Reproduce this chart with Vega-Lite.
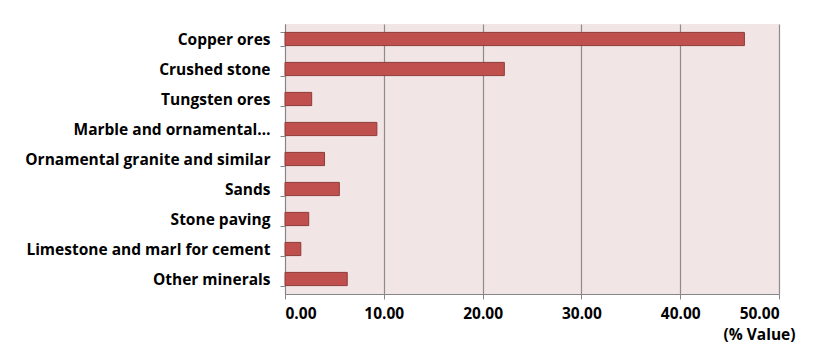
{
  "$schema": "https://vega.github.io/schema/vega-lite/v6.json",
  "width": 494,
  "height": 270,
  "autosize": {"type": "none"},
  "padding": {"left": 285, "top": 24, "right": 38, "bottom": 55},
  "background": "white",
  "data": {
    "values": [
      {"mineral": "Copper ores", "value": 46.5},
      {"mineral": "Crushed stone", "value": 22.2},
      {"mineral": "Tungsten ores", "value": 2.7},
      {"mineral": "Marble and ornamental…", "value": 9.3},
      {"mineral": "Ornamental granite and similar", "value": 4.0},
      {"mineral": "Sands", "value": 5.5},
      {"mineral": "Stone paving", "value": 2.4},
      {"mineral": "Limestone and marl for cement", "value": 1.6},
      {"mineral": "Other minerals", "value": 6.3}
    ]
  },
  "mark": {"type": "bar", "color": "#c0504d", "stroke": "#8e3b39", "strokeWidth": 1},
  "encoding": {
    "y": {
      "field": "mineral",
      "type": "nominal",
      "sort": null,
      "scale": {"paddingInner": 0.56, "paddingOuter": 0.28},
      "axis": {
        "title": null,
        "tickBand": "extent",
        "domainColor": "#868686",
        "tickColor": "#868686",
        "tickSize": 5,
        "labelPadding": 10,
        "labelFont": "Open Sans",
        "labelFontWeight": "bold",
        "labelFontSize": 15.5,
        "labelColor": "#000000",
        "labelLimit": 400
      }
    },
    "x": {
      "field": "value",
      "type": "quantitative",
      "scale": {"domain": [0, 50], "nice": false},
      "axis": {
        "title": "(% Value)",
        "values": [0, 10, 20, 30, 40, 50],
        "format": ".2f",
        "grid": true,
        "gridColor": "#8c8c8c",
        "gridWidth": 1.2,
        "domainColor": "#868686",
        "tickColor": "#868686",
        "tickSize": 5,
        "labelPadding": 7,
        "labelFont": "Open Sans",
        "labelFontWeight": "bold",
        "labelFontSize": 15.5,
        "labelColor": "#000000",
        "titleFont": "Open Sans",
        "titleFontWeight": "bold",
        "titleFontSize": 15.5,
        "titleColor": "#000000",
        "titleAnchor": "end",
        "titleAlign": "right",
        "titleBaseline": "top",
        "titleX": 510,
        "titleY": 33
      }
    }
  },
  "config": {
    "view": {"fill": "#f2e5e5", "stroke": null}
  }
}
